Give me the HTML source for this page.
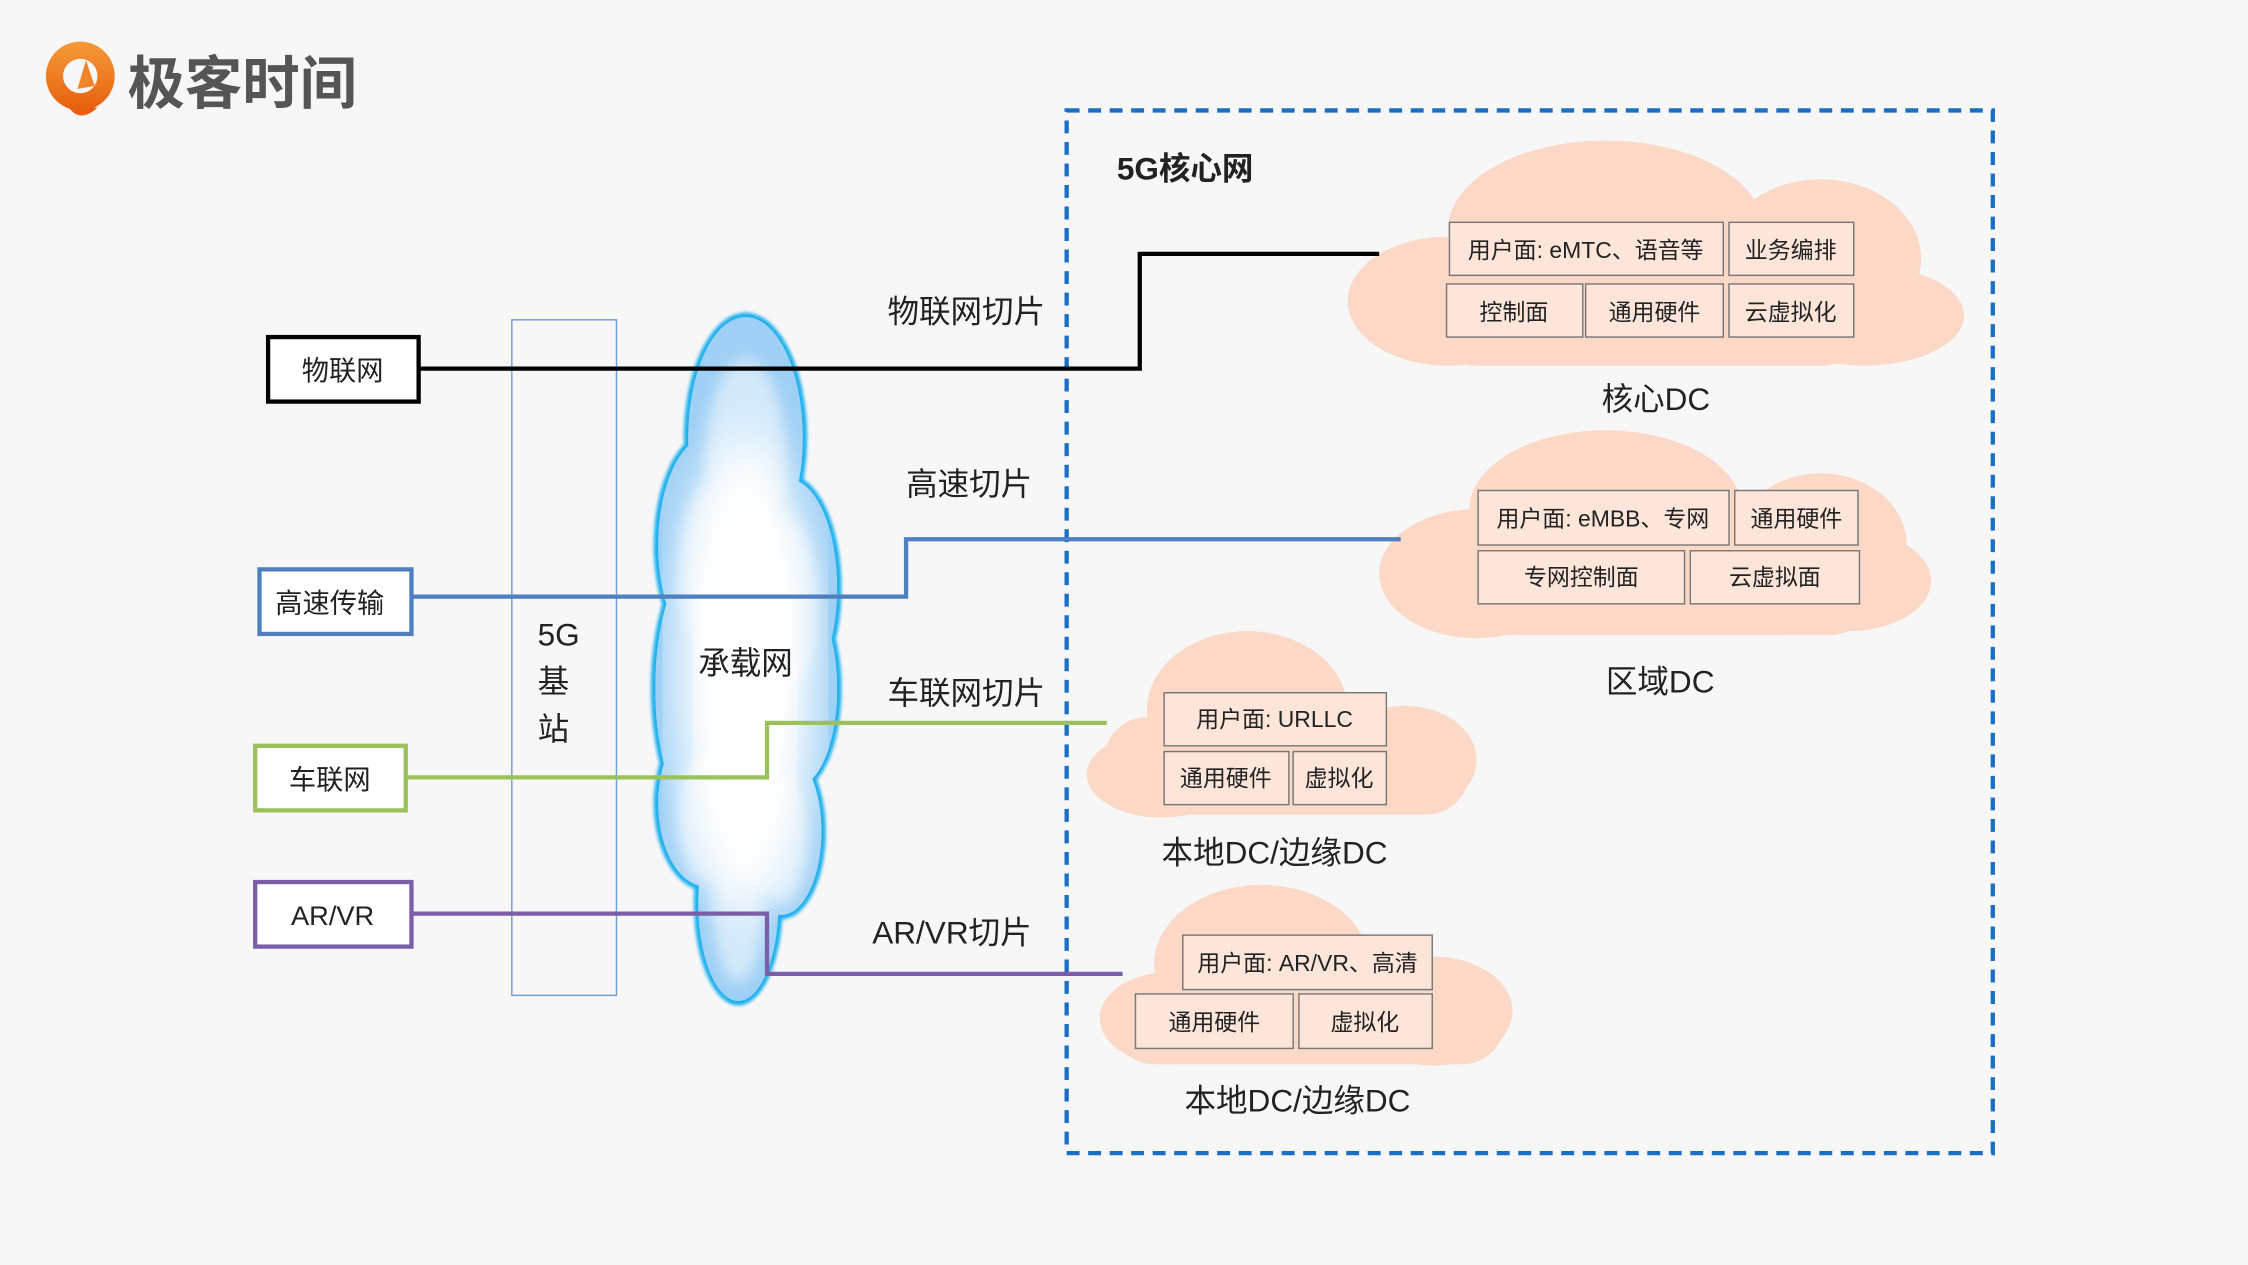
<!DOCTYPE html>
<html><head><meta charset="utf-8"><style>
html,body{margin:0;padding:0;background:#f8f7f8;}
svg{display:block;}
text{font-family:"Liberation Sans","Noto Sans CJK SC",sans-serif;fill:#222;}
</style></head><body>
<svg width="2248" height="1265" viewBox="0 0 1568 882" preserveAspectRatio="none" xmlns="http://www.w3.org/2000/svg">
<defs>
<linearGradient id="og" x1="0" y1="0" x2="0" y2="1"><stop offset="0" stop-color="#f49a3a"/><stop offset="1" stop-color="#e8600f"/></linearGradient>
<filter id="bl"><feGaussianBlur stdDeviation="1.2"/></filter>
<filter id="bl3"><feGaussianBlur stdDeviation="5"/></filter>
<filter id="bl2"><feGaussianBlur stdDeviation="16"/></filter>
<clipPath id="cc">
<ellipse cx="520" cy="305" rx="40" ry="84"/>
<ellipse cx="495" cy="380" rx="36" ry="76"/>
<ellipse cx="550" cy="410" rx="34" ry="76"/>
<ellipse cx="490" cy="480" rx="33" ry="91"/>
<ellipse cx="556" cy="480" rx="28" ry="68"/>
<ellipse cx="492" cy="560" rx="33" ry="58"/>
<ellipse cx="545" cy="580" rx="28" ry="58"/>
<ellipse cx="515" cy="630" rx="28" ry="68"/>
<ellipse cx="522" cy="490" rx="40" ry="130"/>
</clipPath>
</defs>
<rect width="1568" height="882" fill="#f8f7f8"/>
<!-- logo -->
<circle cx="56" cy="53" r="24" fill="url(#og)"/>
<circle cx="56" cy="53" r="12" fill="#f8f7f8"/>
<path d="M48 75 Q56 86 68 75 Z" fill="#e8600f"/>
<path d="M60 42 L54 62 L66 60 Z" fill="#f08428"/>
<text x="89" y="72" font-size="40" font-weight="bold" style="fill:#555">极客时间</text>

<!-- dashed core box -->
<rect x="744" y="77" width="646" height="727" fill="none" stroke="#1a6fc4" stroke-width="3" stroke-dasharray="9,6"/>
<text x="779" y="125" font-size="22" font-weight="bold">5G核心网</text>

<!-- peach clouds -->
<g fill="#fcd9c6">
<ellipse cx="1120" cy="160" rx="110" ry="62"/>
<ellipse cx="1270" cy="180" rx="70" ry="55"/>
<ellipse cx="1010" cy="210" rx="70" ry="45"/>
<ellipse cx="1300" cy="220" rx="70" ry="35"/>
<rect x="990" y="170" width="320" height="85" rx="40"/>

<ellipse cx="1120" cy="355" rx="95" ry="55"/>
<ellipse cx="1270" cy="380" rx="60" ry="50"/>
<ellipse cx="1030" cy="400" rx="68" ry="45"/>
<ellipse cx="1290" cy="405" rx="57" ry="35"/>
<rect x="980" y="370" width="330" height="73" rx="35"/>

<ellipse cx="870" cy="495" rx="70" ry="55"/>
<ellipse cx="980" cy="530" rx="50" ry="38"/>
<ellipse cx="810" cy="540" rx="52" ry="30"/>
<rect x="770" y="500" width="255" height="68" rx="30"/>

<ellipse cx="880" cy="672" rx="75" ry="55"/>
<ellipse cx="1000" cy="705" rx="55" ry="38"/>
<ellipse cx="815" cy="710" rx="48" ry="32"/>
<rect x="775" y="680" width="275" height="62" rx="30"/>
</g>

<!-- boxes -->
<g fill="#fde5da" stroke="#777" stroke-width="1">
<rect x="1011" y="155" width="191" height="37"/><rect x="1206" y="155" width="87" height="37"/>
<rect x="1009" y="198" width="95" height="37"/><rect x="1106" y="198" width="96" height="37"/><rect x="1206" y="198" width="87" height="37"/>
<rect x="1031" y="342" width="175" height="38"/><rect x="1210" y="342" width="86" height="38"/>
<rect x="1031" y="384" width="144" height="37"/><rect x="1179" y="384" width="118" height="37"/>
<rect x="812" y="483" width="155" height="37"/>
<rect x="812" y="524" width="87" height="37"/><rect x="902" y="524" width="65" height="37"/>
<rect x="825" y="652" width="174" height="38"/>
<rect x="792" y="693" width="110" height="38"/><rect x="906" y="693" width="93" height="38"/>
</g>
<g font-size="16" text-anchor="middle">
<text x="1106" y="180">用户面: eMTC、语音等</text><text x="1249" y="180">业务编排</text>
<text x="1056" y="223">控制面</text><text x="1154" y="223">通用硬件</text><text x="1249" y="223">云虚拟化</text>
<text x="1118" y="367">用户面: eMBB、专网</text><text x="1253" y="367">通用硬件</text>
<text x="1103" y="408">专网控制面</text><text x="1238" y="408">云虚拟面</text>
<text x="889" y="507">用户面: URLLC</text>
<text x="855" y="548">通用硬件</text><text x="934" y="548">虚拟化</text>
<text x="912" y="677">用户面: AR/VR、高清</text>
<text x="847" y="718">通用硬件</text><text x="952" y="718">虚拟化</text>
</g>
<g font-size="22" text-anchor="middle">
<text x="1155" y="286">核心DC</text>
<text x="1158" y="483">区域DC</text>
<text x="889" y="602">本地DC/边缘DC</text>
<text x="905" y="775">本地DC/边缘DC</text>
<text x="674" y="225">物联网切片</text>
<text x="676" y="345">高速切片</text>
<text x="674" y="491">车联网切片</text>
<text x="664" y="658">AR/VR切片</text>
</g>

<!-- 5G base station -->
<rect x="357" y="223" width="73" height="471" fill="none" stroke="#6a9fd8" stroke-width="1"/>
<g font-size="22"><text x="375" y="450">5G</text><text x="375" y="483">基</text><text x="375" y="516">站</text></g>

<!-- blue cloud -->
<g>
<g fill="#1ab0ec" filter="url(#bl)">
<ellipse cx="520" cy="305" rx="43" ry="87"/>
<ellipse cx="495" cy="380" rx="39" ry="79"/>
<ellipse cx="550" cy="410" rx="37" ry="79"/>
<ellipse cx="490" cy="480" rx="36" ry="94"/>
<ellipse cx="556" cy="480" rx="31" ry="71"/>
<ellipse cx="492" cy="560" rx="36" ry="61"/>
<ellipse cx="545" cy="580" rx="31" ry="61"/>
<ellipse cx="515" cy="630" rx="31" ry="71"/>
<ellipse cx="522" cy="490" rx="40" ry="130"/>
</g>
<g clip-path="url(#cc)">
<rect x="440" y="200" width="160" height="510" fill="#9fd0f5"/>
<g fill="#ffffff" filter="url(#bl3)" opacity="0.55">
<ellipse cx="520" cy="320" rx="28" ry="70"/>
<ellipse cx="498" cy="395" rx="24" ry="60"/>
<ellipse cx="548" cy="420" rx="22" ry="60"/>
<ellipse cx="495" cy="570" rx="22" ry="45"/>
<ellipse cx="545" cy="585" rx="18" ry="45"/>
<ellipse cx="515" cy="630" rx="18" ry="55"/>
</g>
<ellipse cx="520" cy="470" rx="48" ry="165" fill="#ffffff" filter="url(#bl2)"/>
<ellipse cx="520" cy="470" rx="30" ry="110" fill="#ffffff" filter="url(#bl2)"/>
</g>
</g>
<text x="520" y="470" font-size="22" text-anchor="middle">承载网</text>

<!-- lines -->
<g fill="none" stroke-width="3">
<polyline points="292,257 795,257 795,177 962,177" stroke="#000"/>
<polyline points="287,416 632,416 632,376 977,376" stroke="#4f7fbf"/>
<polyline points="283,542 535,542 535,504 772,504" stroke="#9bc25a"/>
<polyline points="287,637 535,637 535,679 783,679" stroke="#7b5ea7"/>
</g>

<!-- left boxes -->
<g fill="#fff" stroke-width="3">
<rect x="187" y="235" width="105" height="45" stroke="#000"/>
<rect x="181" y="397" width="106" height="45" stroke="#4f7fbf"/>
<rect x="178" y="520" width="105" height="45" stroke="#9bc25a"/>
<rect x="178" y="615" width="109" height="45" stroke="#7b5ea7"/>
</g>
<g font-size="19" text-anchor="middle">
<text x="239" y="265">物联网</text>
<text x="230" y="427">高速传输</text>
<text x="230" y="550">车联网</text>
<text x="232" y="645">AR/VR</text>
</g>
</svg>
</body></html>
